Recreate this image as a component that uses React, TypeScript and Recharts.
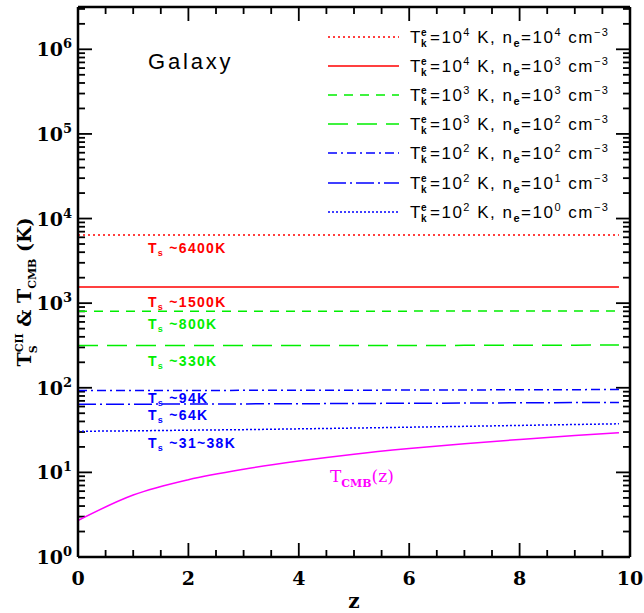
import React from 'react'
import { LineChart, Line, XAxis, YAxis, ReferenceLine, Customized } from 'recharts'

// redshift samples
const zs = [0, 1, 2, 3, 4, 5, 6, 7, 8, 9, 9.8]

// spin temperatures (K)
const tsA = [6400, 6400, 6400, 6400, 6400, 6400, 6400, 6400, 6400, 6400, 6400]
const tsB = [1550, 1550, 1550, 1550, 1550, 1550, 1550, 1550, 1550, 1550, 1550]
const tsC = [805, 805, 805, 805, 805, 805, 805, 806, 806, 807, 808]
const tsD = [315, 315, 315, 315, 315, 316, 316, 317, 318, 319, 320]
const tsE = [93, 93, 93, 93.2, 93.4, 93.6, 94, 94.3, 94.6, 95, 95.3]
const tsF = [64, 64, 64.2, 64.5, 64.8, 65.2, 65.6, 66, 66.4, 66.8, 67]
const tsG = [30.6, 31, 31.5, 32, 32.7, 33.4, 34.2, 35, 35.9, 36.8, 37.5]
const tCmb = [2.7, 5.4, 8.2, 10.9, 13.6, 16.4, 19.1, 21.8, 24.5, 27.3, 29.4]

const tkExp = ['4', '4', '3', '3', '2', '2', '2']
const neExp = ['4', '3', '3', '2', '2', '1', '0']
const tsLabels = ['~6400K', '~1500K', '~800K', '~330K', '~94K', '~64K', '~31~38K']

const xTicks = [0, 0.5, 1, 1.5, 2, 2.5, 3, 3.5, 4, 4.5, 5, 5.5, 6, 6.5, 7, 7.5, 8, 8.5, 9, 9.5, 10]
const yTicks: number[] = []
for (let e = 0; e <= 6; e++) {
  for (let m = 1; m <= 9; m++) {
    const v = m * Math.pow(10, e)
    if (v <= 3e6) yTicks.push(v)
  }
}

const data = zs.map((z, i) => ({
  z,
  a: tsA[i],
  b: tsB[i],
  c: tsC[i],
  d: tsD[i],
  e: tsE[i],
  f: tsF[i],
  g: tsG[i],
  cmb: tCmb[i],
}))

const RED = '#ff0000'
const GREEN = '#00ee00'
const BLUE = '#0000ff'
const MAGENTA = '#ff00ff'

const series = [
  { key: 'a', color: RED, dash: '2 3' },
  { key: 'b', color: RED, dash: undefined },
  { key: 'c', color: GREEN, dash: '9 7' },
  { key: 'd', color: GREEN, dash: '20 9' },
  { key: 'e', color: BLUE, dash: '9 4 2 4' },
  { key: 'f', color: BLUE, dash: '18 4 2 4' },
  { key: 'g', color: BLUE, dash: '2 2' },
]

const labelY = [253, 307, 329, 366, 403, 420, 448]

const W = 644
const H = 613
const LEFT = 78
const RIGHT = 630
const TOP = 7
const BOTTOM = 557
const Y_MAX = 3162278
const SERIF = '"DejaVu Serif", serif'
const SANS = '"Liberation Sans", Arial, sans-serif'

const isDecade = (v: number) => Math.abs(Math.log10(v) - Math.round(Math.log10(v))) < 1e-9

// same mapping as the axes use, for the inward frame ticks
const xPx = (v: number) => LEFT + (v / 10) * (RIGHT - LEFT)
const yPx = (v: number) => BOTTOM - (Math.log10(v) / Math.log10(Y_MAX)) * (BOTTOM - TOP)

const BottomTick = (props: any) => {
  const { x, y, payload } = props
  if (payload.value % 2 !== 0) return <g />
  return (
    <text x={x} y={y + 28} textAnchor="middle" fontFamily={SERIF} fontWeight="bold" fontSize={19} fill="#000">
      {payload.value}
    </text>
  )
}

const LeftTick = (props: any) => {
  const { x, y, payload } = props
  if (!isDecade(payload.value)) return <g />
  const exp = Math.round(Math.log10(payload.value))
  return (
    <text x={x - 6} y={y + 7} textAnchor="end" fontFamily={SERIF} fontWeight="bold" fontSize={19} fill="#000">
      10
      <tspan dy={-8} fontSize={13}>{exp}</tspan>
    </text>
  )
}

const FrameTicks = () => {
  const rects: React.ReactNode[] = []
  xTicks.forEach((v, i) => {
    const len = v % 2 === 0 ? 14 : 7
    const x = xPx(v)
    rects.push(<rect key={'xb' + i} x={x - 0.9} y={BOTTOM - len} width={1.8} height={len} fill="#000" />)
    rects.push(<rect key={'xt' + i} x={x - 0.9} y={TOP} width={1.8} height={len} fill="#000" />)
  })
  yTicks.forEach((v, i) => {
    const len = isDecade(v) ? 14 : 7
    const y = yPx(v)
    rects.push(<rect key={'yl' + i} x={LEFT} y={y - 0.9} width={len} height={1.8} fill="#000" />)
    rects.push(<rect key={'yr' + i} x={RIGHT - len} y={y - 0.9} width={len} height={1.8} fill="#000" />)
  })
  return <g>{rects}</g>
}

const Overlay = () => {
  const rowY = [37, 66, 95, 124, 153, 183, 212]
  return (
    <g>
      {/* legend */}
      {series.map((s, i) => (
        <g key={s.key}>
          <line x1={328} x2={399} y1={rowY[i]} y2={rowY[i]} stroke={s.color} strokeWidth={1.5} strokeDasharray={s.dash} />
          <text x={410} y={rowY[i] + 6} fontFamily={SANS} fontSize={17} fill="#000">T</text>
          <text x={421} y={rowY[i] - 1} fontFamily={SANS} fontWeight="bold" fontSize={10} fill="#000">e</text>
          <text x={421} y={rowY[i] + 10} fontFamily={SANS} fontWeight="bold" fontSize={10} fill="#000">k</text>
          <text x={430} y={rowY[i] + 6} fontFamily={SANS} fontSize={17} fill="#000" letterSpacing={1.5}>
            =10
            <tspan dy={-7} fontSize={11}>{tkExp[i]}</tspan>
            <tspan dy={7}>{'  K,  n'}</tspan>
            <tspan dy={4} fontSize={11} fontWeight="bold">e</tspan>
            <tspan dy={-4}>=10</tspan>
            <tspan dy={-7} fontSize={11}>{neExp[i]}</tspan>
            <tspan dy={7}>{'  cm'}</tspan>
            <tspan dy={-7} fontSize={11}>−3</tspan>
          </text>
        </g>
      ))}

      {/* Ts annotations */}
      {series.map((s, i) => (
        <text key={'l' + s.key} x={148} y={labelY[i]} fontFamily={SANS} fontWeight="bold" fontSize={14} fill={s.color} letterSpacing={1.3}>
          T
          <tspan dy={3} fontSize={9}>s</tspan>
          <tspan dy={-3}>{' ' + tsLabels[i]}</tspan>
        </text>
      ))}

      <text x={148} y={69} fontFamily={SANS} fontSize={22} fill="#000" letterSpacing={2.8}>
        Galaxy
      </text>

      <text x={330} y={482} fontFamily={SERIF} fontSize={17} fill={MAGENTA}>
        T
        <tspan dy={5} fontSize={11} fontWeight="bold">CMB</tspan>
        <tspan dy={-5}>(z)</tspan>
      </text>

      {/* axis titles */}
      <text x={354} y={608} textAnchor="middle" fontFamily={SERIF} fontWeight="bold" fontSize={20} fill="#000">
        z
      </text>
      <text
        transform="translate(31,292) rotate(-90)"
        textAnchor="middle"
        fontFamily={SERIF}
        fontWeight="bold"
        fontSize={19}
        fill="#000"
      >
        T
        <tspan dy={-8} fontSize={11}>CII</tspan>
        <tspan dx={-20} dy={14} fontSize={11}>S</tspan>
        <tspan dx={12} dy={-6}>{' & T'}</tspan>
        <tspan dy={5} fontSize={11}>CMB</tspan>
        <tspan dy={-5}>{'  (K)'}</tspan>
      </text>

      <FrameTicks />
    </g>
  )
}

export default function App() {
  return (
    <div style={{ width: W, height: H, background: '#fff' }}>
      <style>{'body{margin:0}'}</style>
      <LineChart width={W} height={H} data={data} margin={{ top: TOP, right: W - RIGHT, bottom: 0, left: 0 }}>
        <XAxis
          dataKey="z"
          type="number"
          domain={[0, 10]}
          ticks={xTicks}
          interval={0}
          height={H - BOTTOM}
          tickSize={0}
          tickMargin={0}
          tick={BottomTick}
          axisLine={{ stroke: '#000', strokeWidth: 2.5 }}
        />
        <YAxis
          scale="log"
          domain={[1, Y_MAX]}
          allowDataOverflow
          ticks={yTicks}
          interval={0}
          width={LEFT}
          tickSize={0}
          tickMargin={0}
          tick={LeftTick}
          axisLine={{ stroke: '#000', strokeWidth: 2.5 }}
        />
        <ReferenceLine x={10} stroke="#000" strokeWidth={2.5} />
        <ReferenceLine y={Y_MAX} stroke="#000" strokeWidth={2.5} />
        {series.map((s) => (
          <Line
            key={s.key}
            dataKey={s.key}
            type="linear"
            stroke={s.color}
            strokeWidth={1.5}
            strokeDasharray={s.dash}
            dot={false}
            isAnimationActive={false}
          />
        ))}
        <Line dataKey="cmb" type="monotone" stroke={MAGENTA} strokeWidth={1.5} dot={false} isAnimationActive={false} />
        <Customized component={Overlay} />
      </LineChart>
    </div>
  )
}
